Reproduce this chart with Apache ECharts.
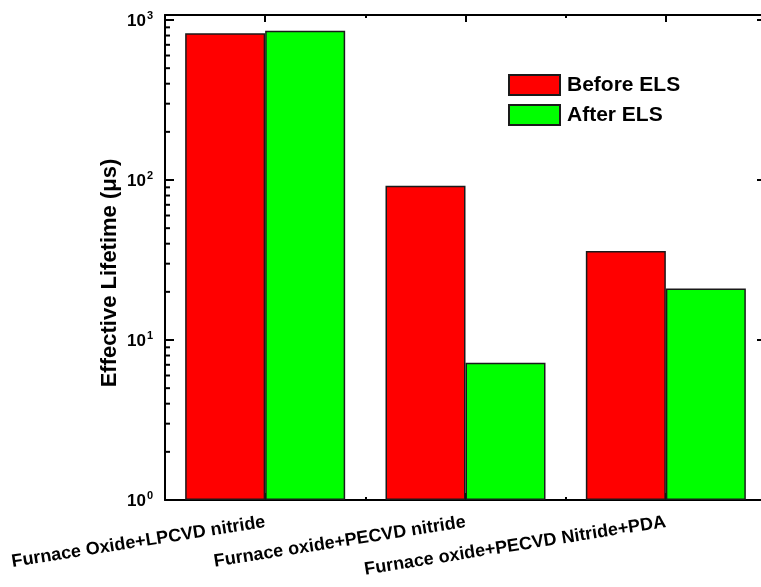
<!DOCTYPE html>
<html>
<head>
<meta charset="utf-8">
<script src="https://cdn.jsdelivr.net/npm/echarts@6/dist/echarts.min.js"></script>
<style>
  html, body { margin: 0; padding: 0; background: #fff; }
  #chart { width: 761px; height: 587px; }
</style>
</head>
<body>
<div id="chart"></div>
<script>
// Passivation stacks and their effective carrier lifetimes (µs)
const categories = [
  'Furnace Oxide+LPCVD nitride',
  'Furnace oxide+PECVD nitride',
  'Furnace oxide+PECVD Nitride+PDA'
];
const beforeELS = [826, 92, 36];
const afterELS = [858, 7.2, 21];
const seriesNames = ['Before ELS', 'After ELS'];
const yMin = 1;
const yMax = 1075;

// minor log ticks (2..9 per decade)
const minorTickValues = [];
[1, 10, 100].forEach(function (d) {
  for (let k = 2; k <= 9; k++) minorTickValues.push(k * d);
});

const FONT = 'Liberation Sans, Arial, Helvetica, sans-serif';
const chart = echarts.init(document.getElementById('chart'), null, { renderer: 'canvas' });

function powLabel(v) {
  const e = Math.log10(v);
  if (Math.abs(e - Math.round(e)) > 1e-6) return '';
  return '{b|10}{s|' + Math.round(e) + '}';
}

const axisLineStyle = { color: '#000', width: 2 };

const option = {
  animation: false,
  backgroundColor: '#fff',
  grid: { left: 165, width: 601, top: 15, height: 485, containLabel: false, outerBoundsMode: 'none' },
  legend: {
    data: seriesNames,
    orient: 'vertical',
    left: 508,
    top: 74,
    padding: 0,
    itemWidth: 51,
    itemHeight: 20,
    itemGap: 8,
    icon: 'rect',
    textStyle: { fontFamily: FONT, fontWeight: 'bold', fontSize: 21, lineHeight: 20, color: '#000', padding: [0, 0, 0, 2] },
    selectedMode: false
  },
  xAxis: [
    {
      type: 'category', data: categories, position: 'bottom',
      axisLine: { lineStyle: axisLineStyle },
      axisTick: { show: true, inside: true, length: 7, alignWithLabel: true, interval: 0, lineStyle: { color: '#000', width: 2 } },
      axisLabel: { interval: 0, rotate: 9, margin: 22, fontFamily: FONT, fontWeight: 'bold', fontSize: 18, color: '#000' },
      splitLine: { show: false }
    },
    {
      type: 'category', data: categories, position: 'bottom',
      axisLine: { show: false },
      axisTick: { show: true, inside: true, length: 3, interval: 0, lineStyle: { color: '#000', width: 2 } },
      axisLabel: { show: false }, splitLine: { show: false }
    },
    {
      type: 'category', data: categories, position: 'top',
      axisLine: { lineStyle: axisLineStyle },
      axisTick: { show: true, inside: true, length: 7, alignWithLabel: true, interval: 0, lineStyle: { color: '#000', width: 2 } },
      axisLabel: { show: false }, splitLine: { show: false }
    },
    {
      type: 'category', data: categories, position: 'top',
      axisLine: { show: false },
      axisTick: { show: true, inside: true, length: 3, interval: 0, lineStyle: { color: '#000', width: 2 } },
      axisLabel: { show: false }, splitLine: { show: false }
    }
  ],
  yAxis: [
    {
      type: 'log', logBase: 10, min: yMin, max: yMax, position: 'left',
      axisLine: { show: true, lineStyle: axisLineStyle },
      axisTick: { show: true, inside: true, length: 9, lineStyle: { color: '#000', width: 2 } },
      axisLabel: {
        margin: 12, color: '#000', formatter: powLabel,
        rich: {
          b: { fontFamily: FONT, fontWeight: 'bold', fontSize: 17, color: '#000', verticalAlign: 'bottom', lineHeight: 20 },
          s: { fontFamily: FONT, fontWeight: 'bold', fontSize: 11, color: '#000', verticalAlign: 'top', lineHeight: 20, padding: [0, 0, 8, 1] }
        }
      },
      splitLine: { show: false }
    },
    {
      type: 'log', logBase: 10, min: yMin, max: yMax, position: 'right',
      axisLine: { show: true, lineStyle: axisLineStyle },
      axisTick: { show: true, inside: true, length: 9, lineStyle: { color: '#000', width: 2 } },
      axisLabel: { show: false },
      splitLine: { show: false }
    }
  ],
  series: [
    {
      name: seriesNames[0], type: 'bar', data: beforeELS,
      barWidth: 80, barGap: '0%',
      itemStyle: { color: '#ff0000', borderColor: '#1a1a1a', borderWidth: 1.5 }
    },
    {
      name: seriesNames[1], type: 'bar', data: afterELS,
      barWidth: 80, barGap: '0%',
      itemStyle: { color: '#00ff00', borderColor: '#1a1a1a', borderWidth: 1.5 }
    },
    {
      // minor ticks on the left and right frame of the log axis
      type: 'custom', silent: true, z: 10, clip: false,
      data: minorTickValues.map(function (v) { return [0, v]; }),
      encode: { x: 0, y: 1 },
      renderItem: function (params, api) {
        const cs = params.coordSys;
        const y = api.coord([0, api.value(1)])[1];
        const style = { stroke: '#000', lineWidth: 2 };
        return {
          type: 'group',
          children: [
            { type: 'line', shape: { x1: cs.x, y1: y, x2: cs.x + 5, y2: y }, style: style },
            { type: 'line', shape: { x1: cs.x + cs.width, y1: y, x2: cs.x + cs.width - 5, y2: y }, style: style }
          ]
        };
      }
    }
  ],
  graphic: [
    {
      type: 'text', x: 110, y: 273, rotation: Math.PI / 2,
      style: {
        text: 'Effective Lifetime (μs)', fontFamily: FONT, fontWeight: 'bold', fontSize: 22,
        fill: '#000', align: 'center', verticalAlign: 'middle'
      }
    }
  ]
};

chart.setOption(option);
</script>
</body>
</html>
